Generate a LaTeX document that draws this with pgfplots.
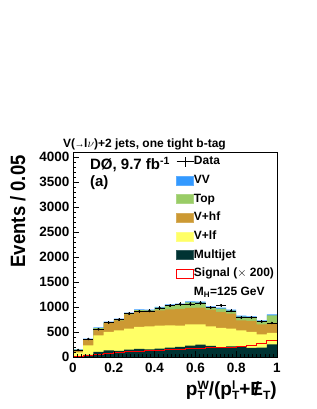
\documentclass[border=0pt]{standalone}
\usepackage{fontspec}
\setmainfont{Liberation Sans}
\usepackage{pgfplots}
\usepackage{pgfplotstable}
\pgfplotsset{compat=1.18}
\definecolor{cVV}{RGB}{51,153,255}
\definecolor{cTop}{RGB}{153,204,102}
\definecolor{cHF}{RGB}{204,153,51}
\definecolor{cLF}{RGB}{255,255,102}
\definecolor{cMJ}{RGB}{0,51,51}
\pgfplotsset{
  boxlegend/.style={legend image code/.code={\draw[##1] (0pt,-4.5pt) rectangle (17pt,4.5pt);}},
  datalegend/.style={legend image code/.code={\draw[black] (0pt,0pt)--(17pt,0pt); \draw[black] (8.5pt,-5pt)--(8.5pt,5pt);}},
}
\newcommand{\ssub}[2]{{\fontsize{12}{12}\selectfont\ooalign{\raisebox{-0.55ex}{#1}\cr\raisebox{1.0ex}{#2}\cr}}}

% cumulative stack tops (bin low edges)
\pgfplotstableread{
x     mj  lf  hf  top  tot  sig
0.00  13  93  133 145  150  5
0.05  40  233 347 355  367  35
0.10  100 433 553 575  590  50
0.15  133 500 680 690  705  70
0.20  120 533 733 752  767  85
0.25  147 567 853 872  887  100
0.30  160 600 900 935  953  115
0.35  153 613 920 930  947  125
0.40  167 627 933 985  1000 135
0.45  187 633 953 1035 1053 145
0.50  200 627 960 1050 1067 155
0.55  227 653 980 1092 1113 165
0.60  247 653 987 1087 1107 175
0.65  220 613 947 995  1013 180
0.70  193 580 900 968  987  185
0.75  213 567 867 928  947  195
0.80  200 533 733 808  827  205
0.85  180 500 720 795  813  230
0.90  187 453 653 715  733  260
0.95  253 480 680 830  853  330
1.00  253 480 680 830  853  330
}\stack

\pgfplotstableread{
x      y     ey
0.025  140   12
0.075  360   19
0.125  555   24
0.175  687   26
0.225  747   27
0.275  867   29
0.325  915   30
0.375  920   30
0.425  980   31
0.475  1027  32
0.525  1060  33
0.575  1060  33
0.625  1080  33
0.675  987   31
0.725  1033  32
0.775  920   30
0.825  787   28
0.875  793   28
0.925  707   27
0.975  680   26
}\data

\begin{document}
\begin{tikzpicture}[x=1pt,y=1pt]
\useasboundingbox (0,0) rectangle (316,409);
\begin{axis}[
  at={(73pt,52pt)}, anchor=south west,
  width=204pt, height=205pt, scale only axis,
  xmin=0, xmax=1, ymin=0, ymax=4100,
  xtick={0,0.2,0.4,0.6,0.8,1}, minor x tick num=9,
  ytick={0,500,1000,1500,2000,2500,3000,3500,4000}, minor y tick num=4,
  xticklabels={0,0.2,0.4,0.6,0.8,1},
  scaled ticks=false,
  tick align=inside, xtick pos=bottom, ytick pos=left,
  major tick length=6pt, minor tick length=3pt,
  tick style={black, line width=0.4pt},
  ticklabel style={font=\bfseries\fontsize{13.5}{14}\selectfont},
  xticklabel style={yshift=-3pt},
  /pgf/number format/assume math mode=true,
  yticklabel style={/pgf/number format/1000 sep={}},
  axis line style={line width=0.5pt},
  clip=false,
  axis on top,
  legend style={at={(0.49,0.993)}, anchor=north west, draw=none, fill=none,
    font=\bfseries\fontsize{12}{12}\selectfont, row sep=6.7pt,
    nodes={inner sep=0pt, text height=9pt, text depth=3pt}, cells={anchor=west}},
  legend cell align=left,
]
\addlegendimage{datalegend}
\addlegendentry{Data}
\addlegendimage{boxlegend, fill=cVV, draw=cVV!80}
\addlegendentry{VV}
\addlegendimage{boxlegend, fill=cTop, draw=cTop!80}
\addlegendentry{Top}
\addlegendimage{boxlegend, fill=cHF, draw=cHF!80}
\addlegendentry{V+hf}
\addlegendimage{boxlegend, fill=cLF, draw=cLF!80}
\addlegendentry{V+lf}
\addlegendimage{boxlegend, fill=cMJ, draw=cMJ!80}
\addlegendentry{Multijet}
\addlegendimage{boxlegend, fill=white, draw=red, line width=0.8pt}
\addlegendentry{Signal ($\times$ 200)}
\addlegendimage{empty legend}
\addlegendentry{M\textsubscript{H}=125 GeV}

\addplot[const plot, fill=cVV, draw=none, forget plot] table[x=x,y=tot]{\stack} \closedcycle;
\addplot[const plot, fill=cTop, draw=none, forget plot] table[x=x,y=top]{\stack} \closedcycle;
\addplot[const plot, fill=cHF, draw=none, forget plot] table[x=x,y=hf]{\stack} \closedcycle;
\addplot[const plot, fill=cLF, draw=none, forget plot] table[x=x,y=lf]{\stack} \closedcycle;
\addplot[const plot, fill=cMJ, draw=none, forget plot] table[x=x,y=mj]{\stack} \closedcycle;
\addplot[const plot, red, line width=1pt, forget plot] table[x=x,y=sig]{\stack};
\addplot[only marks, mark=*, mark size=1pt, black, forget plot,
  error bars/.cd, x dir=both, x fixed=0.025, y dir=both, y explicit,
  error bar style={line width=0.5pt}, error mark=none]
  table[x=x,y=y,y error=ey]{\data};

\node[anchor=base west, font=\bfseries\fontsize{12}{13}\selectfont, inner sep=0pt] at (rel axis cs:-0.049,1.02)
  {V(\kern-0.5pt{\fontsize{10}{10}\selectfont →}\kern-0.5pt l$\nu$)+2 jets, one tight b-tag};
\node[anchor=west, font=\bfseries\fontsize{15}{15}\selectfont, inner sep=0pt] at (rel axis cs:0.083,0.94)
  {DØ, 9.7 fb\textsuperscript{-1}};
\node[anchor=west, font=\bfseries\fontsize{15}{15}\selectfont, inner sep=0pt] at (rel axis cs:0.083,0.85)
  {(a)};
\node[rotate=90, anchor=east, font=\bfseries\fontsize{18.5}{19}\selectfont, inner sep=0pt] at (rel axis cs:-0.27,0.985)
  {\scalebox{1}[1.12]{Events / 0.05}};
\node[anchor=base east, font=\bfseries\fontsize{19}{19}\selectfont, inner sep=0pt] at (rel axis cs:1.0,-0.19)
  {p\ssub{T}{W}/(p\ssub{T}{l}+\ooalign{E\cr\hidewidth/\hidewidth\cr}\ssub{T}{\phantom{l}})};
\end{axis}
\end{tikzpicture}
\end{document}
